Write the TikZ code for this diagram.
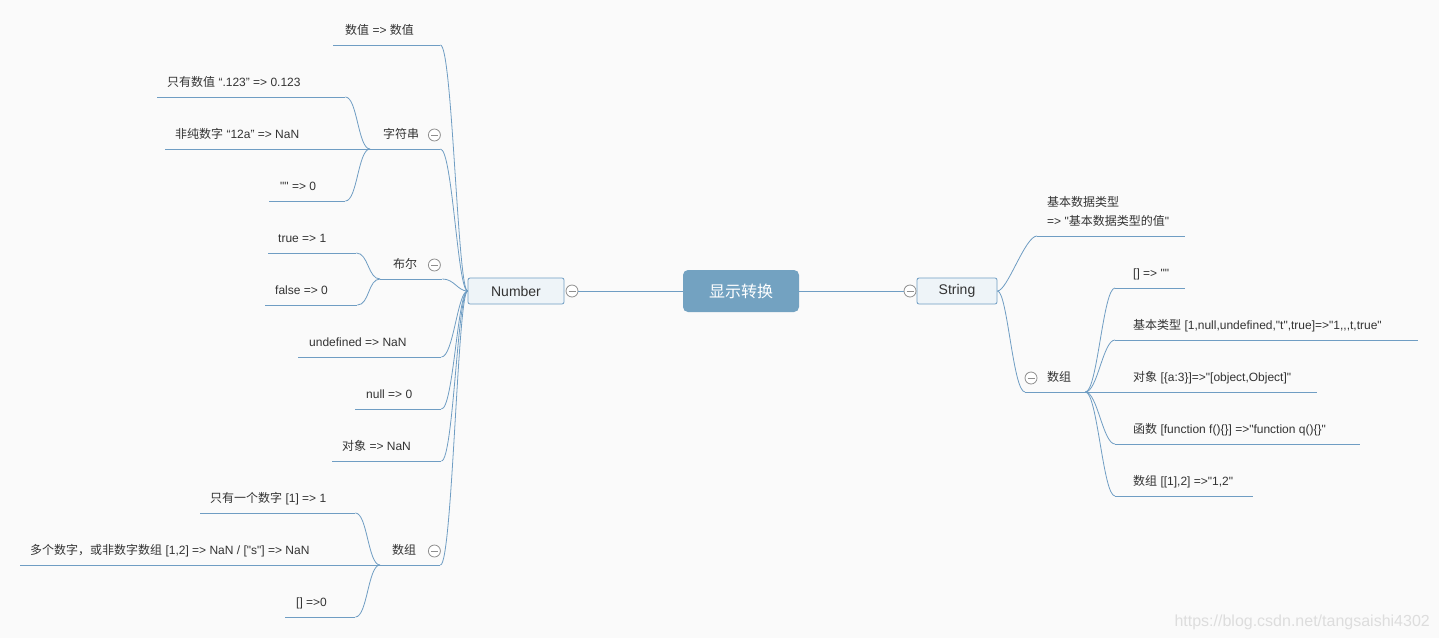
\documentclass[tikz,border=0pt]{standalone}
\usepackage{fontspec}
\setmainfont{Liberation Sans}[Ligatures=TeXOff]
\newfontfamily\cjkfont{Noto Sans CJK SC}
\definecolor{LineClr}{HTML}{6F9DC3}
\definecolor{RootClr}{HTML}{73A2C1}
\definecolor{BoxClr}{HTML}{EEF4F8}
\definecolor{FoldClr}{HTML}{8E8E8E}
\definecolor{TextClr}{HTML}{333333}
\definecolor{BackClr}{HTML}{FAFAFA}
\definecolor{WaterClr}{HTML}{DDDDDD}
\newcommand\zh[1]{{\cjkfont #1}}
\newcommand\leaffont{\fontsize{12}{14.4}\selectfont}

\begin{document}
\begin{tikzpicture}[x=1pt,y=-1pt,
  link/.style={draw=LineClr,line width=0.8pt},
  pad/.store in=\tpad,pad=10pt,
  topic/.style={anchor=south west,inner xsep=0pt,inner ysep=7.5pt,
    text height=9pt,text depth=3pt,text=TextClr,font=\leaffont,
    execute at begin node={\hbox to #1\bgroup\hskip\tpad},
    execute at end node={\hfil\egroup},
    append after command={(\tikzlastnode.south west) edge[link] (\tikzlastnode.south east)}},
  main/.style={draw=LineClr,fill=BoxClr,rounded corners=2pt,line width=0.8pt,
    minimum height=26pt,font=\fontsize{14}{16}\selectfont,text=TextClr},
  fold/.style={circle,draw=FoldClr,fill=white,minimum size=12pt,inner sep=0pt,line width=0.8pt,
    path picture={\draw[FoldClr,line width=0.8pt] ([xshift=2.5pt]path picture bounding box.west) -- ([xshift=-2.5pt]path picture bounding box.east);}}]

\fill[BackClr] (0,0) rectangle (1439,638);
\useasboundingbox (0,0) rectangle (1439,638);

\node[fill=RootClr,rounded corners=5pt,minimum width=116pt,minimum height=42pt,
  text=white,font=\cjkfont\fontsize{16}{19}\selectfont] (root) at (741,291) {显示转换};
\node[main,minimum width=96pt] (num) at (516,291) {Number};
\node[fold] (nfold) at (572,291) {};
\node[main,minimum width=80pt] (str) at (957,291) {String};
\node[fold] (sfold) at (910,291) {};
\draw[link] (root) -- (nfold);
\draw[link] (root) -- (sfold);

% Number
\node[topic=107pt,pad=12pt] (sz) at (333,45) {\zh{数值} => \zh{数值}};
\node[topic=70pt,pad=13pt] (zfc) at (370,149) {\zh{字符串}};
\node[fold] (zfcf) at ([xshift=-6pt,yshift=14pt]zfc.south east) {};
\node[topic=188pt] (zf1) at (157,97) {\zh{只有数值} “.123” => 0.123};
\node[topic=205pt] (zf2) at (165,149) {\zh{非纯数字} “12a” => NaN};
\node[topic=76pt,pad=11pt] (zf3) at (269,201) {"" => 0};
\node[topic=62pt,pad=13pt] (be) at (380,279) {\zh{布尔}};
\node[fold] (bef) at ([xshift=-8pt,yshift=14pt]be.south east) {};
\node[topic=88pt] (be1) at (268,253) {true => 1};
\node[topic=92pt] (be2) at (265,305) {false => 0};
\node[topic=143pt,pad=11pt] (und) at (298,357) {undefined => NaN};
\node[topic=86pt,pad=11pt] (nul) at (355,409) {null => 0};
\node[topic=109pt] (obj) at (332,461) {\zh{对象} => NaN};
\node[topic=60pt,pad=12pt] (arr) at (380,565) {\zh{数组}};
\node[fold] (arrf) at ([xshift=-6pt,yshift=14pt]arr.south east) {};
\node[topic=155pt] (arr1) at (200,513) {\zh{只有一个数字} [1] => 1};
\node[topic=360pt] (arr2) at (20,565) {\zh{多个数字，或非数字数组} [1,2] => NaN / ["s"] => NaN};
\node[topic=70pt,pad=11pt] (arr3) at (285,617) {[] =>0};

\foreach \c in {sz,zfc,be,und,nul,obj,arr}
  \draw[link] (\c.south east) .. controls +(12,0) and +(-10,0) .. (num.west);
\foreach \c in {zf1,zf2,zf3}
  \draw[link] (\c.south east) .. controls +(12,0) and +(-12,0) .. (zfc.south west);
\foreach \c in {be1,be2}
  \draw[link] (\c.south east) .. controls +(12,0) and +(-12,0) .. (be.south west);
\foreach \c in {arr1,arr2,arr3}
  \draw[link] (\c.south east) .. controls +(12,0) and +(-12,0) .. (arr.south west);

% String
\node[topic=148pt] (jb) at (1037,236) {\def\arraystretch{1.32}\begin{tabular}[b]{@{}l@{}}\zh{基本数据类型}\\=> "\zh{基本数据类型的值}"\end{tabular}};
\node[topic=60pt,pad=22pt] (rarr) at (1025,392) {\zh{数组}};
\node[fold] (rarrf) at ([xshift=6pt,yshift=14pt]rarr.south west) {};
\node[topic=70pt,pad=18pt] (r1) at (1115,288) {[] => ""};
\node[topic=303pt,pad=18pt] (r2) at (1115,340) {\zh{基本类型} [1,null,undefined,"t",true]=>"1,{},{},t,true"};
\node[topic=202pt,pad=18pt] (r3) at (1115,392) {\zh{对象} [\{a:3\}]=>"[object,Object]"};
\node[topic=245pt,pad=18pt] (r4) at (1115,444) {\zh{函数} [function f()\{\}] =>"function q()\{\}"};
\node[topic=138pt,pad=18pt] (r5) at (1115,496) {\zh{数组} [[1],2] =>"1,2"};

\foreach \c in {jb,rarr}
  \draw[link] (str.east) .. controls +(10,0) and +(-12,0) .. (\c.south west);
\foreach \c in {r1,r2,r3,r4,r5}
  \draw[link] (rarr.south east) .. controls +(12,0) and +(-12,0) .. (\c.south west);

\node[anchor=base east,inner sep=0pt,text=WaterClr,font=\fontsize{16}{19}\selectfont] (wm) at (1430,626) {https://blog.csdn.net/tangsaishi4302};
\end{tikzpicture}
\end{document}
